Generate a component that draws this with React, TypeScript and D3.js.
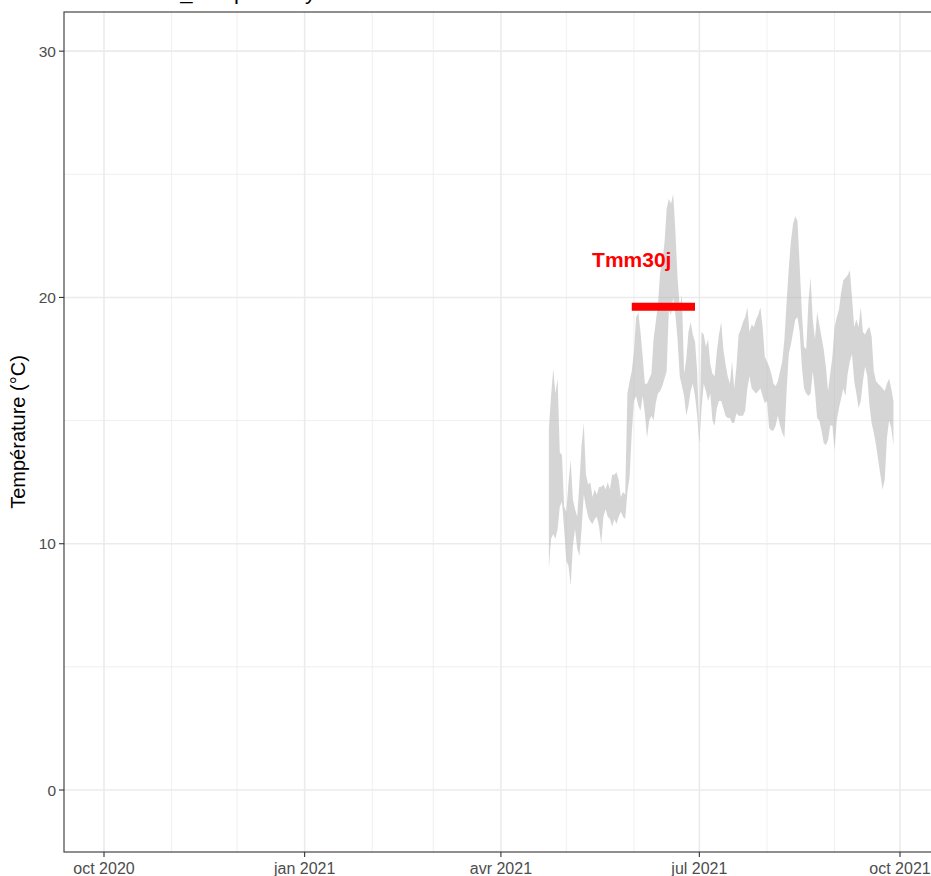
import React from "react";
import * as d3 from "d3";

// ---- data ----
const seriesStart = "2021-04-23";
const tmax = [
  14.7, 16.0, 17.1, 16.1, 16.7, 13.7, 13.6, 11.5, 11.3, 12.5,
  13.4, 11.8, 11.4, 11.1, 12.5, 14.0, 14.9, 12.8, 12.4, 12.5,
  11.9, 12.2, 12.0, 12.3, 12.3, 12.4, 12.2, 12.5, 12.2, 12.8,
  12.8, 12.9, 12.6, 11.9, 12.1, 12.0, 16.1, 16.6, 17.0, 17.8,
  19.2, 19.4, 18.6, 17.6, 16.5, 16.5, 16.7, 16.9, 18.3, 19.0,
  19.7, 21.0, 21.5, 22.2, 23.6, 24.0, 23.8, 24.2, 22.7, 20.8,
  19.6, 20.1, 16.9, 17.5, 18.6, 19.0, 18.5, 18.2, 17.0, 14.3,
  18.6, 18.5, 18.0, 18.3, 17.3, 16.9, 16.8, 17.8, 18.5, 19.0,
  17.9, 17.3, 16.8, 16.5, 17.4, 16.3, 17.2, 18.5, 18.7, 19.0,
  19.2, 19.6, 18.6, 18.9, 18.8, 19.1, 19.3, 19.6, 18.8, 17.6,
  17.4, 17.2, 16.9, 16.5, 16.4, 16.6, 17.0, 17.4, 18.3, 19.8,
  21.2, 22.3, 23.0, 23.3, 23.1, 21.3, 19.4, 18.0, 17.9, 19.8,
  20.8, 19.1, 18.3, 19.4, 18.9, 18.4, 17.9, 17.2, 16.2, 16.9,
  17.6, 18.8, 19.2, 19.5, 20.2, 20.7, 20.8, 20.9, 21.1, 20.0,
  18.8, 19.1, 18.8, 19.6, 18.6, 18.5, 18.7, 18.8, 18.4, 17.0,
  16.6, 16.5, 16.4, 16.3, 16.2, 16.5, 16.7, 16.3, 15.8,
];
const tmin = [
  9.0, 10.2, 10.4, 10.2, 10.6, 11.5, 11.7, 10.6, 9.3, 9.1,
  8.3, 9.9, 10.6, 9.8, 9.5, 10.6, 12.0, 11.5, 11.1, 10.9,
  10.8, 11.0, 11.1, 10.7, 10.0, 11.1, 11.4, 11.1, 11.0, 10.7,
  11.0, 10.8, 11.1, 11.3, 11.1, 11.0, 12.1, 12.7, 14.5, 15.8,
  16.0, 15.6, 15.4, 16.0, 15.3, 14.3, 15.0, 15.2, 15.0, 15.7,
  16.1, 16.2, 16.4, 16.7, 17.0, 19.5, 19.3, 20.0, 19.3, 18.3,
  16.8, 16.4, 16.0, 15.2, 15.6, 16.2, 16.5, 16.0, 15.2, 14.1,
  15.5, 16.5, 16.2, 15.8, 16.1, 15.0, 14.8, 15.5, 15.8, 15.8,
  15.5, 15.2, 15.1, 15.1, 14.9, 14.9, 15.3, 15.2, 15.2, 15.2,
  15.4, 16.3, 16.8, 16.3, 16.2, 16.1, 16.2, 16.3, 16.0, 15.7,
  15.8, 14.7, 14.6, 14.6, 14.8, 15.2, 14.8, 14.5, 14.3, 16.2,
  17.7, 18.1, 18.6, 19.1, 19.2, 18.6, 17.2, 16.3, 16.1, 16.0,
  16.1, 17.0, 16.2, 15.1, 15.0, 14.6, 14.1, 14.0, 14.2, 14.8,
  14.8, 13.8, 15.0, 15.5, 15.9, 16.3, 16.0, 16.9, 17.4, 17.7,
  16.6, 16.1, 15.5, 15.8, 16.6, 17.2, 16.8, 15.6, 14.9, 14.5,
  14.0, 13.4, 12.8, 12.2, 12.6, 14.3, 15.0, 14.7, 14.0,
];
const tmmStart = "2021-05-31";
const tmmEnd = "2021-06-29";
const tmmValue = 19.62;
const tmmLabel = "Tmm30j";
const tmmLabelY = 21.55;
const xTickDates = ["2020-10-01", "2021-01-01", "2021-04-01", "2021-07-01", "2021-10-01"];
const xTickLabels = ["oct 2020", "jan 2021", "avr 2021", "jul 2021", "oct 2021"];
const xMinorDates = ["2020-11-01", "2020-12-01", "2021-02-01", "2021-03-01", "2021-05-01", "2021-06-01", "2021-08-01", "2021-09-01"];
const yTicks = [0, 10, 20, 30];
const yMinorTicks = [5, 15, 25];
const yLabel = "Température (°C)";
const titleText = "Ruisseau12_Temp – daily";

const W = 931;
const H = 876;
const FONT = "'Liberation Sans', Arial, Helvetica, sans-serif";

const parse = (s: string) => new Date(s + "T00:00:00Z");

export default function App() {
  const left = 64, top = 12, bottom = 852, right = 945;
  const x = d3.scaleUtc().domain([parse("2020-10-01"), parse("2021-10-01")]).range([104, 900]);
  const y = d3.scaleLinear().domain([-2.517, 31.59]).range([bottom, top]);

  const start = parse(seriesStart).getTime();
  const rows = tmax.map((hi, i) => ({ d: new Date(start + i * 86400000), hi, lo: tmin[i] }));
  const area = d3.area<{ d: Date; hi: number; lo: number }>()
    .x((r) => x(r.d))
    .y0((r) => y(r.lo))
    .y1((r) => y(r.hi));

  return (
    <svg width={W} height={H} style={{ position: "absolute", left: 0, top: 0, background: "#fff" }} fontFamily={FONT}>
      <rect x={0} y={0} width={W} height={H} fill="#fff" />
      <text x={left} y={-1} fontSize={22} fill="#000">{titleText}</text>
      <defs>
        <clipPath id="panel"><rect x={left} y={top} width={right - left} height={bottom - top} /></clipPath>
      </defs>
      <g clipPath="url(#panel)">
        {yMinorTicks.map((v) => (
          <line key={"ym" + v} x1={left} x2={right} y1={y(v)} y2={y(v)} stroke="#ebebeb" strokeWidth={0.8} />
        ))}
        {xMinorDates.map((s) => (
          <line key={"xm" + s} x1={x(parse(s))} x2={x(parse(s))} y1={top} y2={bottom} stroke="#ebebeb" strokeWidth={0.8} />
        ))}
        {yTicks.map((v) => (
          <line key={"yM" + v} x1={left} x2={right} y1={y(v)} y2={y(v)} stroke="#ebebeb" strokeWidth={1.6} />
        ))}
        {xTickDates.map((s) => (
          <line key={"xM" + s} x1={x(parse(s))} x2={x(parse(s))} y1={top} y2={bottom} stroke="#ebebeb" strokeWidth={1.6} />
        ))}
        <path d={area(rows) ?? ""} fill="#b3b3b3" fillOpacity={0.55} />
        <line x1={x(parse(tmmStart))} x2={x(parse(tmmEnd))} y1={y(tmmValue)} y2={y(tmmValue)} stroke="#ff0000" strokeWidth={8} />
        <text x={x(parse(tmmStart))} y={y(tmmLabelY)} textAnchor="middle" dominantBaseline="central" fontSize={21} fontWeight="bold" fill="#ff0000">{tmmLabel}</text>
      </g>
      <rect x={left} y={top} width={right - left} height={bottom - top} fill="none" stroke="#333333" strokeWidth={1.1} />
      {yTicks.map((v) => (
        <g key={"yt" + v}>
          <line x1={left - 5} x2={left} y1={y(v)} y2={y(v)} stroke="#333333" strokeWidth={1.1} />
          <text x={left - 8} y={y(v)} textAnchor="end" dominantBaseline="central" fontSize={15.5} fill="#4d4d4d">{v}</text>
        </g>
      ))}
      {xTickDates.map((s, i) => (
        <g key={"xt" + s}>
          <line x1={x(parse(s))} x2={x(parse(s))} y1={bottom} y2={bottom + 5} stroke="#333333" strokeWidth={1.1} />
          <text x={x(parse(s))} y={bottom + 22} textAnchor="middle" fontSize={16} fill="#4d4d4d">{xTickLabels[i]}</text>
        </g>
      ))}
      <text transform={`translate(25, ${(top + bottom) / 2}) rotate(-90)`} textAnchor="middle" fontSize={20} fill="#000">{yLabel}</text>
    </svg>
  );
}
